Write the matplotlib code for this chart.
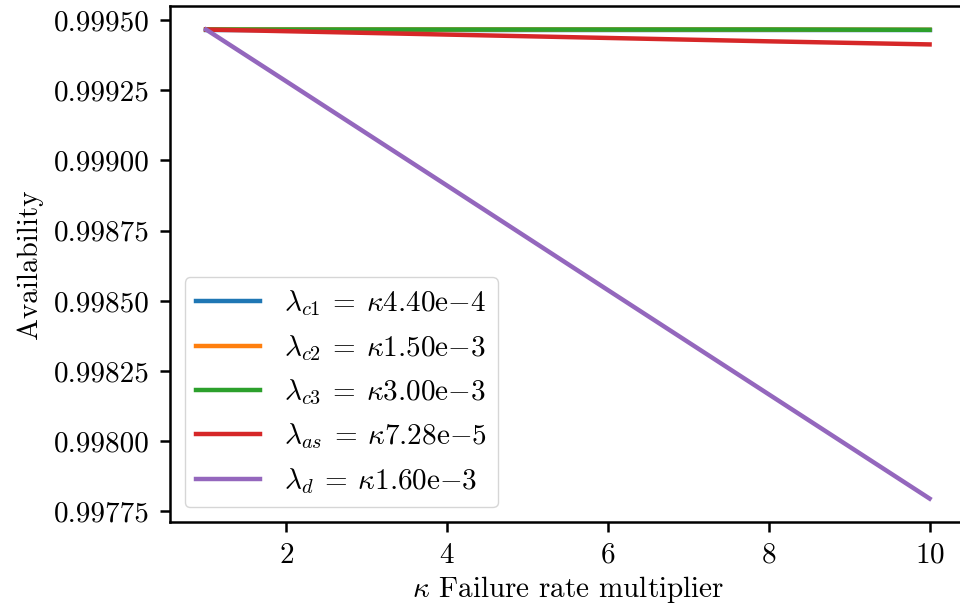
import matplotlib
matplotlib.use("Agg")
import matplotlib.pyplot as plt

# --- data ---
kappa = [1, 2, 4, 6, 8, 10]
avail_c1 = [0.999466, 0.999466, 0.999466, 0.999466, 0.999466, 0.999466]
avail_c2 = [0.999466, 0.999466, 0.999466, 0.999466, 0.999466, 0.999465]
avail_c3 = [0.999466, 0.999466, 0.999466, 0.999466, 0.999466, 0.999465]
avail_as = [0.999466, 0.999460, 0.999448, 0.999436, 0.999424, 0.999413]
avail_d = [0.999466, 0.999281, 0.998910, 0.998538, 0.998167, 0.997796]

labels = [
    r"$\lambda_{c1} \:=\: \kappa 4.40\mathrm{e}{-}4$",
    r"$\lambda_{c2} \:=\: \kappa 1.50\mathrm{e}{-}3$",
    r"$\lambda_{c3} \:=\: \kappa 3.00\mathrm{e}{-}3$",
    r"$\lambda_{as} \:=\: \kappa 7.28\mathrm{e}{-}5$",
    r"$\lambda_{d} \:=\: \kappa 1.60\mathrm{e}{-}3$",
]

# --- style (LaTeX look, scaled up) ---
plt.rcParams["font.family"] = "serif"
plt.rcParams["font.serif"] = ["cmr10"]
plt.rcParams["mathtext.fontset"] = "cm"
plt.rcParams["axes.formatter.use_mathtext"] = True
plt.rcParams["axes.unicode_minus"] = False
plt.rcParams["font.size"] = 21
plt.rcParams["lines.linewidth"] = 3.2
plt.rcParams["axes.linewidth"] = 1.8
plt.rcParams["xtick.major.size"] = 7.5
plt.rcParams["ytick.major.size"] = 7.5
plt.rcParams["xtick.major.width"] = 1.8
plt.rcParams["ytick.major.width"] = 1.8
plt.rcParams["xtick.major.pad"] = 7
plt.rcParams["ytick.major.pad"] = 7

fig = plt.figure(figsize=(9.6, 6.08), dpi=100)
ax = fig.add_axes([0.177, 0.1414, 0.829, 0.8486])

series = [avail_c1, avail_c2, avail_c3, avail_as, avail_d]
for vals, lab in zip(series, labels):
    ax.plot(kappa, vals, label=lab)

ax.set_xlabel(r"$\kappa$ Failure rate multiplier", labelpad=4)
ax.set_ylabel("Availability", labelpad=8)
ax.set_xticks([2, 4, 6, 8, 10])
ax.set_yticks([0.99775, 0.99800, 0.99825, 0.99850, 0.99875, 0.99900, 0.99925, 0.99950])
ax.yaxis.set_major_formatter(matplotlib.ticker.FormatStrFormatter("%.5f"))

ax.legend(loc="lower left", handlelength=2.2, borderpad=0.4, labelspacing=0.5)

fig.savefig("out.png", dpi=100)
